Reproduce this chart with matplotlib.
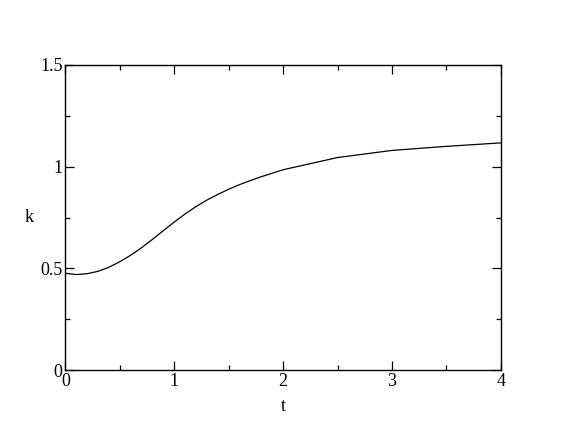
import matplotlib
matplotlib.use("Agg")
import matplotlib.pyplot as plt
from matplotlib.ticker import MultipleLocator

t = [0.0, 0.1, 0.2, 0.3, 0.4, 0.5, 0.6, 0.7, 0.8, 0.9, 1.0, 1.1, 1.2, 1.3,
     1.4, 1.5, 1.6, 1.7, 1.8, 1.9, 2.0, 2.5, 3.0, 3.5, 4.0]
k = [0.476, 0.470, 0.474, 0.486, 0.506, 0.533, 0.565, 0.602, 0.643, 0.686,
     0.728, 0.768, 0.804, 0.836, 0.864, 0.889, 0.912, 0.932, 0.951, 0.968,
     0.985, 1.045, 1.080, 1.100, 1.117]

plt.rcParams['font.family'] = ['Liberation Serif', 'DejaVu Serif']
plt.rcParams['font.size'] = 13

fig = plt.figure(figsize=(5.64, 4.36), dpi=100)
ax = fig.add_axes([0.116, 0.151, 0.772, 0.700])
ax.plot(t, k, color='black', lw=0.9)

ax.set_xlim(0, 4)
ax.set_ylim(0, 1.5)
ax.xaxis.set_major_locator(MultipleLocator(1))
ax.xaxis.set_minor_locator(MultipleLocator(0.5))
ax.yaxis.set_major_locator(MultipleLocator(0.5))
ax.yaxis.set_minor_locator(MultipleLocator(0.25))
ax.yaxis.set_major_formatter(plt.FuncFormatter(lambda v, p: '%g' % v))
ax.xaxis.set_major_formatter(plt.FuncFormatter(lambda v, p: '%g' % v))
ax.tick_params(which='both', direction='in', top=True, right=True, width=0.9)
ax.tick_params(which='major', length=6.5, pad=2)
ax.tick_params(which='minor', length=3.8)
for s in ax.spines.values():
    s.set_linewidth(1.0)

ax.set_xlabel('t', labelpad=6)
ax.set_ylabel('k', rotation=0, labelpad=8, va='center')

fig.savefig('out.png', dpi=100)
